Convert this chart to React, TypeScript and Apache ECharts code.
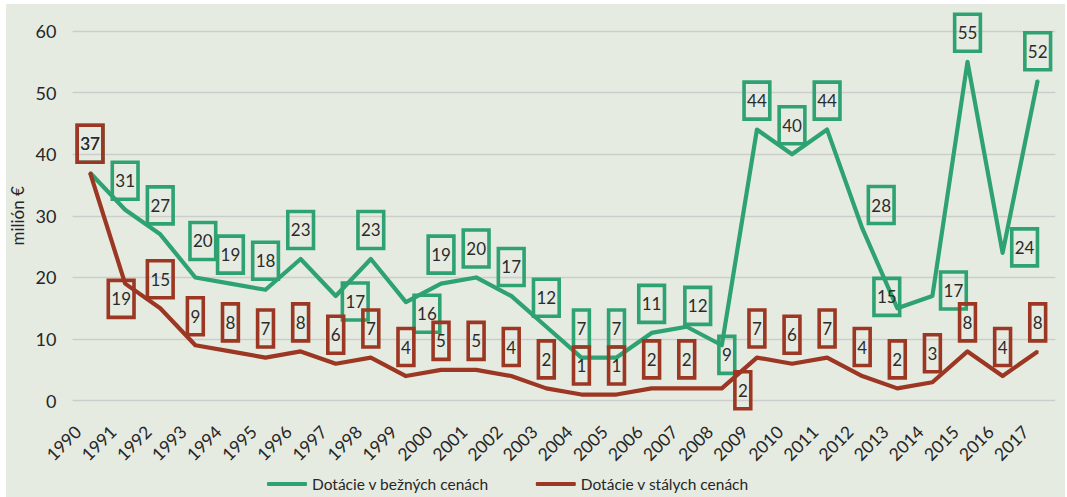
import React, { useEffect, useRef } from "react";
import * as echarts from "echarts";

const years = [
  "1990", "1991", "1992", "1993", "1994", "1995", "1996", "1997", "1998", "1999",
  "2000", "2001", "2002", "2003", "2004", "2005", "2006", "2007", "2008", "2009",
  "2010", "2011", "2012", "2013", "2014", "2015", "2016", "2017",
];
const currentPrices = [37, 31, 27, 20, 19, 18, 23, 17, 23, 16, 19, 20, 17, 12, 7, 7, 11, 12, 9, 44, 40, 44, 28, 15, 17, 55, 24, 52];
const constantPrices = [37, 19, 15, 9, 8, 7, 8, 6, 7, 4, 5, 5, 4, 2, 1, 1, 2, 2, 2, 7, 6, 7, 4, 2, 3, 8, 4, 8];
const seriesNames = ["Dotácie v bežných cenách", "Dotácie v stálych cenách"];
const yAxisName = "milión €";

// label placement relative to the default "above the point" spot (layout only)
const greenOffsets: Record<string, [number, number]> = {
  "1993": [7.5, -7.5],
  "1997": [19.5, 34.6],
  "1999": [21, 40.6],
  "2007": [11, 8.1],
  "2008": [5, 38.6],
  "2012": [19, 5.9],
  "2013": [-10.5, 17.6],
  "2014": [21, 23.6],
  "2016": [22, 23.6],
};
const redOffsets: Record<string, [number, number]> = {
  "1991": [-4, 44.2],
  "2008": [21, 30.9],
};

const GREEN = "#2ea271";
const RED = "#9b3722";
const FONT = "Lato";

function buildData(values: number[], offsets: Record<string, [number, number]>) {
  return values.map((v, i) => ({
    value: v,
    label: { offset: offsets[years[i]] || [0, 0] },
  }));
}

function labelStyle(color: string) {
  return {
    show: true,
    position: "top",
    distance: 9.5,
    color: "#2b2b2b",
    fontFamily: FONT,
    fontSize: 17,
    fontWeight: "normal",
    lineHeight: 21,
    padding: [8, 3],
    borderColor: color,
    borderWidth: 1.8,
    backgroundColor: "transparent",
  };
}

export default function App() {
  const ref = useRef<HTMLDivElement>(null);
  useEffect(() => {
    document.body.style.margin = "0";
    const chart = echarts.init(ref.current!, null, { renderer: "svg" });
    chart.setOption({
      animation: false,
      backgroundColor: "#e6ebe2",
      textStyle: { fontFamily: FONT },
      grid: {
        left: 66.5,
        right: 9.75,
        top: 27,
        bottom: 96.3,
        containLabel: false,
        outerBoundsMode: "none",
      },
      legend: {
        left: 256,
        top: 467,
        icon: "roundRect",
        itemWidth: 40,
        itemHeight: 4,
        itemGap: 47,
        textStyle: { fontFamily: FONT, fontSize: 15.5, color: "#262626" },
        data: seriesNames,
      },
      xAxis: {
        type: "category",
        data: years,
        boundaryGap: true,
        axisLine: { show: false },
        axisTick: { show: false },
        axisLabel: {
          rotate: 45,
          interval: 0,
          margin: 40,
          verticalAlign: "bottom",
          lineHeight: 34,
          fontFamily: FONT,
          fontSize: 17.5,
          color: "#262626",
        },
      },
      yAxis: {
        type: "value",
        min: 0,
        max: 60,
        interval: 10,
        name: yAxisName,
        nameLocation: "middle",
        nameGap: 47,
        nameMoveOverlap: false,
        nameTextStyle: { fontFamily: FONT, fontSize: 17, color: "#262626" },
        axisLine: { show: false },
        axisTick: { show: false },
        axisLabel: { margin: 16, fontFamily: FONT, fontSize: 18, color: "#262626" },
        splitLine: { lineStyle: { color: "#cbcdcc", width: 1.3 } },
      },
      series: [
        {
          name: seriesNames[0],
          type: "line",
          data: buildData(currentPrices, greenOffsets),
          symbol: "circle",
          symbolSize: 2,
          showSymbol: true,
          itemStyle: { color: GREEN },
          lineStyle: { color: GREEN, width: 4.2, join: "round" },
          label: labelStyle(GREEN),
          z: 2,
        },
        {
          name: seriesNames[1],
          type: "line",
          data: buildData(constantPrices, redOffsets),
          symbol: "circle",
          symbolSize: 2,
          showSymbol: true,
          itemStyle: { color: RED },
          lineStyle: { color: RED, width: 4.2, join: "round" },
          label: labelStyle(RED),
          z: 3,
        },
      ],
    });
    return () => chart.dispose();
  }, []);
  return (
    <div style={{ position: "relative", width: 1067, height: 497, background: "#ffffff" }}>
      <div ref={ref} style={{ position: "absolute", left: 6, top: 4, width: 1059, height: 493 }} />
    </div>
  );
}
